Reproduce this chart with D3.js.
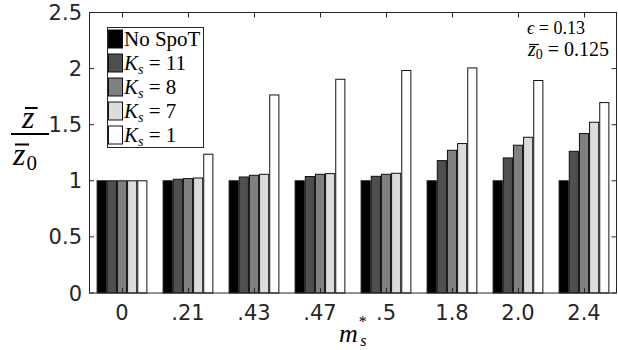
<!DOCTYPE html>
<html>
<head>
<meta charset="utf-8">
<script src="https://cdn.jsdelivr.net/npm/d3@7"></script>
<style>
  body { margin: 0; background: #fff; }
  svg { display: block; }
</style>
</head>
<body>
<div id="chart"></div>
<script>
// data
const categories = ["0", ".21", ".43", ".47", ".5", "1.8", "2.0", "2.4"];
const noSpot = [1, 1, 1, 1, 1, 1, 1, 1];
const ks11 = [1, 1.014, 1.034, 1.038, 1.04, 1.18, 1.204, 1.263];
const ks8 = [1, 1.02, 1.049, 1.058, 1.058, 1.272, 1.317, 1.421];
const ks7 = [1, 1.025, 1.058, 1.064, 1.067, 1.332, 1.388, 1.522];
const ks1 = [1, 1.237, 1.765, 1.905, 1.983, 2.006, 1.894, 1.697];
const seriesNames = ["No SpoT", "11", "8", "7", "1"];
const seriesColors = ["#000000", "#4f4f4f", "#808080", "#dcdcdc", "#ffffff"];
const yTicks = [0, 0.5, 1, 1.5, 2, 2.5];

const allSeries = [noSpot, ks11, ks8, ks7, ks1];

const width = 618, height = 350;
const plotLeft = 89, plotRight = 617, plotTop = 12.5, plotBottom = 293;
const axisColor = "#262626";
const serif = "'Liberation Serif', 'DejaVu Serif', serif";
const sans = "'DejaVu Sans', sans-serif";

const svg = d3.select("#chart").append("svg")
  .attr("width", width)
  .attr("height", height);

const x0 = d3.scaleBand().domain(categories).range([plotLeft, plotRight]).padding(0);
const x1 = d3.scaleBand().domain(d3.range(allSeries.length))
  .range([0, x0.bandwidth()]).paddingInner(0.1).paddingOuter(0.8);
const y = d3.scaleLinear().domain([0, 2.5]).range([plotBottom, plotTop]);

// bars
const groups = svg.append("g").selectAll("g")
  .data(categories)
  .enter().append("g")
    .attr("transform", d => "translate(" + x0(d) + ",0)");

groups.selectAll("rect")
  .data((d, i) => allSeries.map((s, k) => ({k: k, v: s[i]})))
  .enter().append("rect")
    .attr("x", d => x1(d.k))
    .attr("width", x1.bandwidth())
    .attr("y", d => y(d.v))
    .attr("height", d => y(0) - y(d.v))
    .attr("fill", d => seriesColors[d.k])
    .attr("stroke", "#111")
    .attr("stroke-width", 1);

// axes box with inward ticks
const tickLen = 5;
const ax = svg.append("g").attr("stroke", axisColor).attr("stroke-width", 1).attr("fill", "none");
ax.append("rect")
  .attr("x", plotLeft + 0.5).attr("y", plotTop)
  .attr("width", plotRight - plotLeft - 1).attr("height", plotBottom - plotTop);

yTicks.forEach(t => {
  ax.append("line").attr("x1", plotLeft).attr("x2", plotLeft + tickLen)
    .attr("y1", y(t)).attr("y2", y(t));
  ax.append("line").attr("x1", plotRight - 0.5).attr("x2", plotRight - 0.5 - tickLen)
    .attr("y1", y(t)).attr("y2", y(t));
});
categories.forEach(c => {
  const cx = Math.round(x0(c) + x0.bandwidth() / 2) + 0.5;
  ax.append("line").attr("x1", cx).attr("x2", cx)
    .attr("y1", plotBottom).attr("y2", plotBottom - tickLen);
  ax.append("line").attr("x1", cx).attr("x2", cx)
    .attr("y1", plotTop).attr("y2", plotTop + tickLen);
});

// tick labels
svg.append("g").selectAll("text")
  .data(yTicks)
  .enter().append("text")
    .attr("x", plotLeft - 7)
    .attr("y", d => y(d))
    .attr("dy", "0.36em")
    .attr("text-anchor", "end")
    .attr("font-family", sans)
    .attr("font-size", 21)
    .attr("fill", axisColor)
    .text(d => d3.format("")(d));

svg.append("g").selectAll("text")
  .data(categories)
  .enter().append("text")
    .attr("x", d => x0(d) + x0.bandwidth() / 2)
    .attr("y", 320)
    .attr("text-anchor", "middle")
    .attr("font-family", sans)
    .attr("font-size", 21)
    .attr("fill", axisColor)
    .text(d => d);

// x label m*_s, one text element
const xl = svg.append("text").attr("x", 339).attr("y", 341.5)
  .attr("font-family", serif).attr("fill", "#000");
xl.append("tspan").attr("font-size", 26).attr("font-style", "italic").text("m");
xl.append("tspan").attr("font-size", 16).attr("dx", 1).attr("dy", -14.5).text("*");
xl.append("tspan").attr("font-size", 16).attr("font-style", "italic")
  .attr("dx", -6.5).attr("dy", 18.5).text("s");

// y label z̄ / z̄0
const yl = svg.append("g").attr("font-family", serif).attr("fill", "#000");
yl.append("text").attr("x", 22).attr("y", 128)
  .attr("font-size", 32).attr("font-style", "italic").text("z");
yl.append("line").attr("x1", 25).attr("x2", 37.5).attr("y1", 108).attr("y2", 108)
  .attr("stroke", "#000").attr("stroke-width", 2);
yl.append("line").attr("x1", 11).attr("x2", 49).attr("y1", 134).attr("y2", 134)
  .attr("stroke", "#000").attr("stroke-width", 2);
const den = yl.append("text").attr("x", 13).attr("y", 165);
den.append("tspan").attr("font-size", 32).attr("font-style", "italic").text("z");
den.append("tspan").attr("font-size", 21).attr("dx", 1).attr("dy", 5).text("0");
yl.append("line").attr("x1", 15).attr("x2", 29).attr("y1", 144.5).attr("y2", 144.5)
  .attr("stroke", "#000").attr("stroke-width", 2);

// legend
const lg = svg.append("g");
lg.append("rect")
  .attr("x", 107.5).attr("y", 27.5).attr("width", 96).attr("height", 120)
  .attr("fill", "#fff").attr("stroke", axisColor).attr("stroke-width", 1);

seriesNames.forEach((name, k) => {
  const cy = 39 + k * 24;
  lg.append("rect")
    .attr("x", 108.5).attr("y", cy - 9).attr("width", 14).attr("height", 18)
    .attr("fill", seriesColors[k]).attr("stroke", "#111").attr("stroke-width", 1);
  const t = lg.append("text")
    .attr("x", 124).attr("y", cy + 6.5)
    .attr("font-family", serif).attr("font-size", 21).attr("fill", "#000");
  if (k === 0) {
    t.text(name);
  } else {
    t.append("tspan").attr("font-style", "italic").text("K");
    t.append("tspan").attr("font-style", "italic").attr("font-size", 14)
      .attr("dy", 4).text("s");
    t.append("tspan").attr("dy", -4).text(" = " + name);
  }
});

// annotation
const an = svg.append("g").attr("font-family", serif).attr("fill", "#000");
const a1 = an.append("text").attr("x", 527).attr("y", 34).attr("font-size", 18);
a1.append("tspan").attr("font-style", "italic").text("\u03F5");
a1.append("tspan").text(" = 0.13");
const a2 = an.append("text").attr("x", 528).attr("y", 56).attr("font-size", 20);
a2.append("tspan").attr("font-style", "italic").text("z");
a2.append("tspan").attr("font-size", 14).attr("dy", 3).text("0");
a2.append("tspan").attr("dy", -3).text(" = 0.125");
an.append("line").attr("x1", 529).attr("x2", 539).attr("y1", 44.5).attr("y2", 44.5)
  .attr("stroke", "#000").attr("stroke-width", 1.2);
</script>
</body>
</html>
